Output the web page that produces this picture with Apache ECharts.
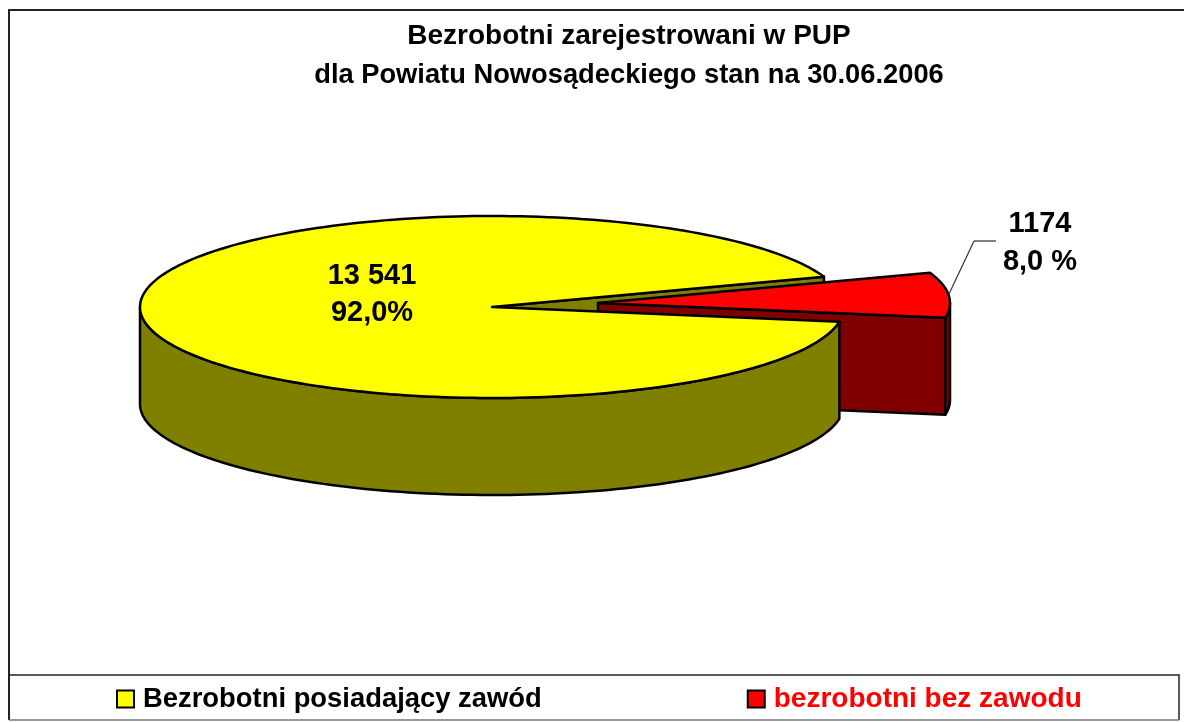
<!DOCTYPE html>
<html>
<head>
<meta charset="utf-8">
<title>Bezrobotni zarejestrowani w PUP</title>
<script src="https://cdn.jsdelivr.net/npm/echarts@6/dist/echarts.min.js"></script>
<style>
    html, body { margin: 0; padding: 0; background: #fff; }
    #chart { width: 1184px; height: 722px; }
</style>
</head>
<body>
<div id="chart"></div>
<script>
    // dane z wykresu
    const categories = ['Bezrobotni posiadający zawód', 'bezrobotni bez zawodu'];
    const values = [13541, 1174];
    const sliceLabels = ['13 541\n92,0%', '1174\n8,0 %'];
    const topColors = ['#ffff00', '#ff0000'];
    const wallColors = ['#808000', '#800000'];
    const legendTextColors = ['#000000', '#ff0000'];
    const legendFontSizes = [27.4, 28];

    const FONT = '"Liberation Sans", Arial, sans-serif';
    const total = values[0] + values[1];

    // kształt "placka" 3D
    const pie = { cx: 492, cy: 307, rx: 352, ry: 91, depth: 97, startAngle: 19.4 };
    const explode = [{ dx: 0, dy: 0 }, { dx: 106, dy: -4 }];
    const lineStyle = { stroke: '#000', lineWidth: 2.5, lineJoin: 'round' };

    function rad(a) { return a * Math.PI / 180; }

    function sliceAngles(idx) {
        let from = pie.startAngle;
        for (let i = 0; i < idx; i++) from += values[i] / total * 360;
        return [from, from + values[idx] / total * 360];
    }

    function pointAt(idx, a, down) {
        return [
            pie.cx + explode[idx].dx + pie.rx * Math.cos(rad(a)),
            pie.cy + explode[idx].dy - pie.ry * Math.sin(rad(a)) + (down || 0)
        ];
    }

    function arcPoints(idx, from, to, down) {
        const pts = [];
        const n = Math.max(2, Math.ceil(Math.abs(to - from) / 1.5));
        for (let i = 0; i <= n; i++) pts.push(pointAt(idx, from + (to - from) * i / n, down));
        return pts;
    }

    function poly(points, fill, z2) {
        return { type: 'polygon', z2: z2, shape: { points: points }, style: Object.assign({ fill: fill }, lineStyle) };
    }

    // sciana boczna dla fragmentu luku widocznego od przodu
    function outerWall(idx, from, to, z2) {
        const top = arcPoints(idx, from, to, 0);
        const bottom = arcPoints(idx, to, from, pie.depth);
        return poly(top.concat(bottom), wallColors[idx], z2);
    }

    function cutFace(idx, a, z2) {
        const o = explode[idx];
        const apex = [pie.cx + o.dx, pie.cy + o.dy];
        const rim = pointAt(idx, a, 0);
        return poly([
            apex, rim,
            [rim[0], rim[1] + pie.depth],
            [apex[0], apex[1] + pie.depth]
        ], wallColors[idx], z2);
    }

    function renderSlice(params) {
        const idx = params.seriesIndex;
        const range = sliceAngles(idx);
        const o = explode[idx];
        const apex = [pie.cx + o.dx, pie.cy + o.dy];
        const children = [];
        if (idx === 0) {
            // rozciecie za czerwonym kawalkiem, potem sciana i wierzch
            children.push(cutFace(0, range[0], 1));
            children.push(outerWall(0, 180, range[1], 5));
            children.push(poly([apex].concat(arcPoints(0, range[0], range[1], 0)), topColors[0], 6));
            children.push({
                type: 'text', z2: 7,
                style: {
                    x: 372, y: 294, text: sliceLabels[0], align: 'center', verticalAlign: 'middle',
                    fill: '#000', font: 'bold 29px ' + FONT, lineHeight: 37
                }
            });
        } else {
            children.push(cutFace(1, range[0], 2));
            children.push(outerWall(1, range[0], 360, 3));
            children.push(poly([apex].concat(arcPoints(1, range[0], range[1], 0)), topColors[1], 4));
            children.push({
                type: 'line', z2: 4,
                shape: { x1: 996, y1: 241, x2: 974, y2: 241 },
                style: { stroke: '#808080', lineWidth: 2 }
            });
            children.push({
                type: 'line', z2: 4,
                shape: { x1: 974, y1: 241, x2: 949, y2: 294 },
                style: { stroke: '#333', lineWidth: 1.2 }
            });
            children.push({
                type: 'text', z2: 7,
                style: {
                    x: 1040, y: 243, text: sliceLabels[1], align: 'center', verticalAlign: 'middle',
                    fill: '#000', font: 'bold 29px ' + FONT, lineHeight: 38
                }
            });
        }
        return { type: 'group', children: children };
    }

    const chart = echarts.init(document.getElementById('chart'));
    chart.setOption({
        animation: false,
        backgroundColor: '#fff',
        title: {
            text: '{a|Bezrobotni zarejestrowani w PUP}\n{b|dla Powiatu Nowosądeckiego stan na 30.06.2006}',
            left: 629,
            top: 17,
            padding: 0,
            textAlign: 'center',
            textStyle: {
                fontFamily: FONT, fontWeight: 'bold', color: '#000',
                rich: {
                    a: { fontFamily: FONT, fontWeight: 'bold', fontSize: 28, lineHeight: 39, color: '#000' },
                    b: { fontFamily: FONT, fontWeight: 'bold', fontSize: 27.3, lineHeight: 39, color: '#000' }
                }
            }
        },
        legend: {
            left: 116,
            top: 685,
            padding: 0,
            itemWidth: 17,
            itemHeight: 17,
            itemGap: 205,
            icon: 'rect',
            itemStyle: { borderColor: '#000', borderWidth: 2 },
            textStyle: { fontFamily: FONT, fontWeight: 'bold', padding: [0, 0, 0, 4] },
            data: categories.map((name, i) => ({
                name: name,
                textStyle: { color: legendTextColors[i], fontSize: legendFontSizes[i], fontFamily: FONT, fontWeight: 'bold' }
            }))
        },
        graphic: [
            {
                type: 'polyline', silent: true,
                shape: { points: [[1184, 10], [9, 10], [9, 720]] },
                style: { fill: null, stroke: '#222', lineWidth: 2 }
            },
            {
                type: 'polyline', silent: true,
                shape: { points: [[9, 675], [1179, 675], [1179, 720]] },
                style: { fill: null, stroke: '#222', lineWidth: 1.5 }
            },
            {
                type: 'line', silent: true,
                shape: { x1: 9, y1: 720, x2: 1179, y2: 720 },
                style: { stroke: '#777', lineWidth: 1.5 }
            }
        ],
        series: categories.map((name, i) => ({
            type: 'custom',
            name: name,
            coordinateSystem: 'none',
            silent: true,
            itemStyle: { color: topColors[i] },
            data: [values[i]],
            renderItem: renderSlice
        }))
    });
</script>
</body>
</html>
